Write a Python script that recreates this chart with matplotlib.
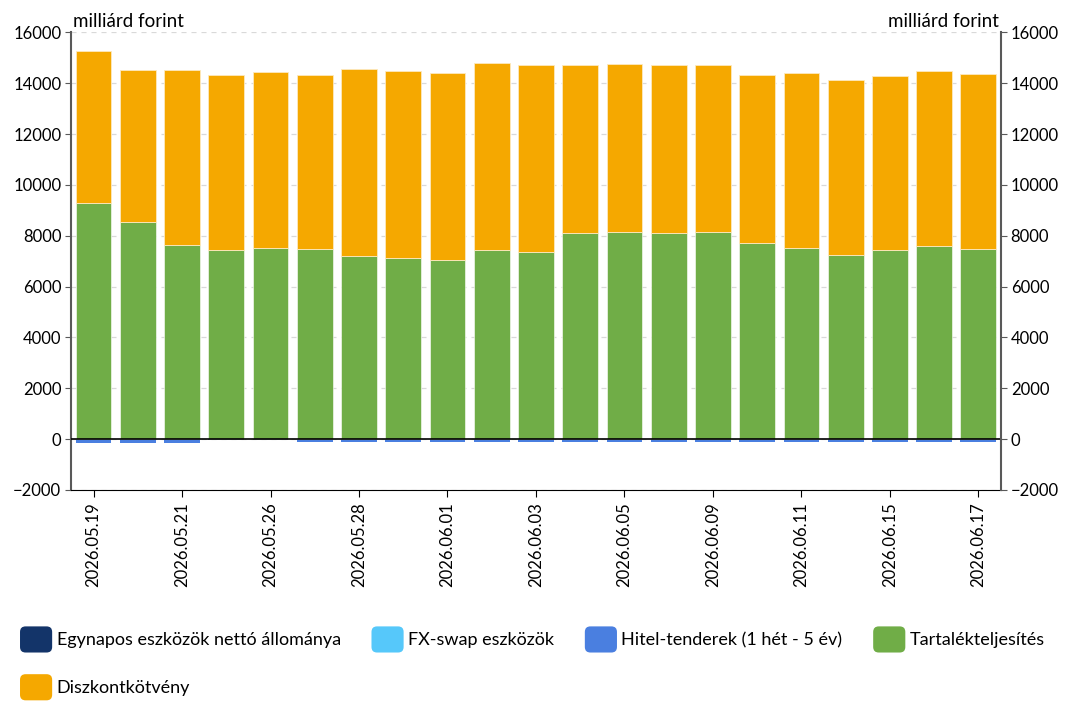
import matplotlib
matplotlib.use("Agg")
import matplotlib.pyplot as plt
import numpy as np
from matplotlib.patches import Patch, FancyBboxPatch
from matplotlib.legend_handler import HandlerPatch

plt.rcParams["font.family"] = ["Lato", "DejaVu Sans"]
plt.rcParams["font.size"] = 12

dates = ["2026.05.19", "2026.05.20", "2026.05.21", "2026.05.22", "2026.05.26",
         "2026.05.27", "2026.05.28", "2026.05.29", "2026.06.01", "2026.06.02",
         "2026.06.03", "2026.06.04", "2026.06.05", "2026.06.08", "2026.06.09",
         "2026.06.10", "2026.06.11", "2026.06.12", "2026.06.15", "2026.06.16",
         "2026.06.17"]

# milliárd forint
egynapos = [0, 0, 0, -20, -20, 0, 0, 0, 0, 0, 0, 0, 0, 0, 0, 0, 0, 0, -40, 0, 0]
fx_swap = [0] * 21
hitel = [-160, -150, -150, 0, 0, -130, -130, -130, -130, -130, -100,
         -120, -120, -120, -120, -120, -120, -110, -80, -110, -100]
tartalek = [9270, 8530, 7650, 7420, 7530, 7460, 7220, 7110, 7050, 7420, 7340,
            8090, 8130, 8090, 8130, 7730, 7530, 7250, 7420, 7600, 7470]
total_pos = [15266, 14530, 14530, 14320, 14440, 14330, 14570, 14480, 14410, 14790, 14700,
             14700, 14750, 14700, 14730, 14330, 14400, 14110, 14280, 14460, 14350]
diszkont = [t - g for t, g in zip(total_pos, tartalek)]

labels = ["Egynapos eszközök nettó állománya", "FX-swap eszközök",
          "Hitel-tenderek (1 hét - 5 év)", "Tartalékteljesítés", "Diszkontkötvény"]
colors = ["#133469", "#56C8FA", "#4A7FE0", "#70AD47", "#F5A800"]


class HandlerRound(HandlerPatch):
    """Rounded square legend keys."""
    def create_artists(self, legend, orig_handle, xdescent, ydescent,
                       width, height, fontsize, trans):
        p = FancyBboxPatch((-xdescent, -ydescent), width, height,
                           boxstyle="round,pad=0,rounding_size=4",
                           facecolor=orig_handle.get_facecolor(),
                           edgecolor="none", transform=trans)
        return [p]


x = np.arange(len(dates))
w = 0.81

fig = plt.figure(figsize=(10.66, 7.02), dpi=100)
ax = fig.add_axes([0.0666, 0.302, 0.8724, 0.652])

# negatives stacked downward, positives upward
neg_base = np.zeros(len(x))
for vals, c in [(egynapos, colors[0]), (fx_swap, colors[1]), (hitel, colors[2])]:
    v = np.array(vals, dtype=float)
    ax.bar(x, v, w, bottom=neg_base, color=c, edgecolor="none", zorder=3)
    neg_base += v
ax.bar(x, tartalek, w, color=colors[3], edgecolor="#ffffff", linewidth=0.4, zorder=3)
ax.bar(x, diszkont, w, bottom=tartalek, color=colors[4], edgecolor="#fde9bf",
       linewidth=0.6, zorder=3)

ax.axhline(0, color="black", lw=1.2, zorder=4)
ax.set_ylim(-2000, 16000)
ax.set_xlim(-0.51, 20.51)
yt = np.arange(-2000, 16001, 2000)
ax.set_yticks(yt)
ax.grid(axis="y", color="#d9d9d9", ls=(0, (4, 4)), lw=0.9, zorder=0)

ax.set_xticks(x[::2])
ax.set_xticklabels(dates[::2], rotation=90)
ax.tick_params(axis="x", length=5, color="black")
ax.tick_params(axis="y", length=4, color="#595959", pad=3)

ax.spines["top"].set_visible(False)
ax.spines["right"].set_visible(False)
ax.spines["left"].set_color("#595959")
ax.spines["left"].set_linewidth(1.5)
ax.spines["bottom"].set_color("black")

ax2 = ax.twinx()
ax2.set_ylim(ax.get_ylim())
ax2.set_yticks(yt)
ax2.tick_params(axis="y", length=4, color="#595959", pad=3)
for s in ["top", "left", "bottom"]:
    ax2.spines[s].set_visible(False)
ax2.spines["right"].set_color("#595959")
ax2.spines["right"].set_linewidth(1.5)

fig.text(0.0685, 0.9615, "milliárd forint", ha="left", va="baseline", fontsize=13.5)
fig.text(0.937, 0.9615, "milliárd forint", ha="right", va="baseline", fontsize=13.5)

handles = [Patch(facecolor=c, edgecolor="none", label=l) for c, l in zip(colors, labels)]
order = [0, 4, 1, 2, 3]
fig.legend([handles[i] for i in order], [labels[i] for i in order],
           loc="upper left", bbox_to_anchor=(0.012, 0.118), ncol=4, frameon=False,
           fontsize=13, handlelength=1.78, handleheight=1.85, handletextpad=0.25,
           columnspacing=1.7, labelspacing=1.2, borderaxespad=0,
           handler_map={Patch: HandlerRound()})

fig.savefig("out.png", dpi=100)
